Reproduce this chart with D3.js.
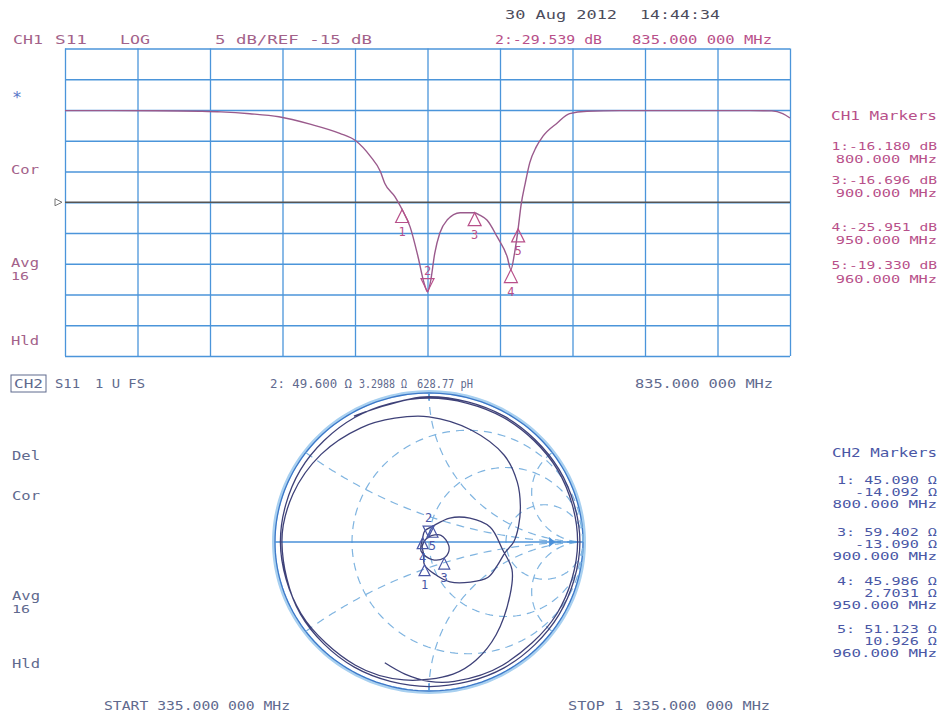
<!DOCTYPE html>
<html>
<head>
<meta charset="utf-8">
<script src="https://cdn.jsdelivr.net/npm/d3@7/dist/d3.min.js"></script>
<style>
  body { margin: 0; background: #fff; }
  svg { display: block; }
  text { font-family: "DejaVu Sans Mono", "Liberation Mono", monospace; font-size: 13px; }
</style>
</head>
<body>
<svg id="chart" width="944" height="720"></svg>
<script>
// Sweep settings
const startMHz = 335;
const stopMHz = 1335;
const dbPerDiv = 5;
const refDb = -15;

// CH1: S11 log magnitude (MHz, dB)
const freqMHz = [335, 400, 460, 520, 550, 590, 630, 673, 714, 736,
    756, 770, 776, 790, 800, 811, 822, 830, 835, 839,
    845, 852, 862, 880, 900, 907, 917, 931, 945, 950,
    955, 960, 964, 970, 976, 985, 994, 1014, 1031, 1055,
    1100, 1160, 1220, 1280, 1310, 1325, 1335];
const s11dB = [-0.1, -0.1, -0.12, -0.2, -0.3, -0.6, -1.1, -2.3, -3.8, -5.0,
    -7.5, -10.0, -11.9, -14.1, -16.18, -19.0, -23.9, -28.0, -29.539, -28.0,
    -23.3, -20.0, -17.9, -16.7, -16.696, -17.1, -17.9, -20.6, -23.9, -25.951,
    -23.3, -19.33, -15.5, -11.8, -8.6, -6.0, -4.3, -2.1, -0.6, -0.2,
    -0.1, -0.1, -0.1, -0.1, -0.15, -0.6, -1.3];

// CH2: S11 on the Smith chart, reflection coefficient as magnitude / angle (deg)
const smithAngle = [120, 90, 60, 30, 0, -30, -60, -90, -120, -150,
    180, 160, 140, 120, 105, 90, 70, 50, 35, 22,
    10, 0, -8, -20, -32, -45, -63, -80, -101, -114,
    -150, 95, 30, -10, -30, -47.5, -80, -130, 144.4, 110,
    78, 50, 31, 14, -6, -19, -34, -55, -69, -80,
    -100, -120, -150, 180, 150, 120, 90, 60, 30, 0,
    -30, -60, -80, -90, -100, -109.5];
const smithMag = [0.975, 0.975, 0.975, 0.975, 0.98, 0.975, 0.975, 0.97, 0.97, 0.965,
    0.955, 0.94, 0.915, 0.885, 0.86, 0.84, 0.8, 0.76, 0.7, 0.64,
    0.59, 0.55, 0.5, 0.47, 0.45, 0.38, 0.30, 0.22, 0.155, 0.087,
    0.05, 0.033, 0.09, 0.13, 0.145, 0.146, 0.12, 0.08, 0.05, 0.08,
    0.108, 0.21, 0.31, 0.41, 0.48, 0.57, 0.635, 0.76, 0.85, 0.9,
    0.94, 0.955, 0.96, 0.965, 0.965, 0.965, 0.965, 0.965, 0.965, 0.965,
    0.96, 0.955, 0.95, 0.935, 0.9, 0.86];

// Markers (marker 2 is the active one)
const markerId = [1, 2, 3, 4, 5];
const markerFreq = [800, 835, 900, 950, 960];
const markerDb = [-16.180, -29.539, -16.696, -25.951, -19.330];
const markerR = [45.090, 49.600, 59.402, 45.986, 51.123];
const markerX = [-14.092, 3.2988, -13.090, 2.7031, 10.926];
const activeMarker = 2;

// Graticule
const freqDivs = [335, 435, 535, 635, 735, 835, 935, 1035, 1135, 1235, 1335];
const dbDivs = [10, 5, 0, -5, -10, -15, -20, -25, -30, -35, -40];
const smithGridR = [1 / 3, 1, 3];
const smithGridX = [1 / 3, 1, 3, -1 / 3, -1, -3];

// ---------------------------------------------------------------
const svg = d3.select("#chart");
const gridBlue = "#4b95da";
const ch1Col = "#a3628a";
const ch1Mk = "#b8508a";
const ch2Col = "#5f6a8e";
const ch2Mk = "#4a57a6";

function fmtHz(f) {
    const s = f.toFixed(6).split(".");
    const n = +s[0];
    const intStr = n >= 1000 ? `${Math.floor(n / 1000)} ${String(n % 1000).padStart(3, "0")}` : `${n}`;
    return `${intStr}.${s[1].slice(0, 3)} ${s[1].slice(3)} MHz`;
}

function label(s, x, yb, w, color, size) {
    const t = svg.append("text").attr("x", x).attr("y", yb).attr("fill", color).text(s);
    if (w) t.attr("textLength", w).attr("lengthAdjust", "spacingAndGlyphs");
    if (size) t.style("font-size", size + "px");
    return t;
}

// triangle marker, tip on the point
function tri(g, px, py, up, size, color) {
    const h = size, w = size * 0.5;
    const d = up ? `M${px},${py}L${px - w},${py + h}L${px + w},${py + h}Z`
                 : `M${px},${py}L${px - w},${py - h}L${px + w},${py - h}Z`;
    g.append("path").attr("d", d).attr("fill", "none").attr("stroke", color).attr("stroke-width", 1.2);
}

// ---------------- CH1 log magnitude ----------------
const topDb = refDb + 5 * dbPerDiv;
const botDb = refDb - 5 * dbPerDiv;
const x = d3.scaleLinear().domain([startMHz, stopMHz]).range([65, 790]);
const y = d3.scaleLinear().domain([topDb, botDb]).range([48.5, 356]);

const grid = svg.append("g");
grid.append("g")
    .attr("transform", `translate(0,${y(botDb)})`)
    .call(d3.axisBottom(x).tickValues(freqDivs).tickSize(y(topDb) - y(botDb)).tickFormat(""));
grid.append("g")
    .attr("transform", `translate(${x(startMHz)},0)`)
    .call(d3.axisLeft(y).tickValues(dbDivs).tickSize(x(startMHz) - x(stopMHz)).tickFormat(""));
grid.selectAll(".domain").remove();
grid.selectAll("line").attr("stroke", gridBlue).attr("stroke-width", 1.3);

// reference line and arrow
svg.append("line")
    .attr("x1", x(startMHz)).attr("x2", x(stopMHz))
    .attr("y1", y(refDb)).attr("y2", y(refDb))
    .attr("stroke", "#555").attr("stroke-width", 1.6);
svg.append("path")
    .attr("d", `M${x(startMHz) - 10},${y(refDb) - 3.5}L${x(startMHz) - 3},${y(refDb)}L${x(startMHz) - 10},${y(refDb) + 3.5}Z`)
    .attr("fill", "none").attr("stroke", "#777").attr("stroke-width", 1);

const magData = freqMHz.map((f, i) => ({ f, db: s11dB[i] }));
svg.append("path")
    .datum(magData)
    .attr("fill", "none")
    .attr("stroke", "#9a5a8c")
    .attr("stroke-width", 1.4)
    .attr("d", d3.line().x(d => x(d.f)).y(d => y(d.db)).curve(d3.curveMonotoneX));

const mk1 = svg.append("g");
markerId.forEach((id, i) => {
    const px = x(markerFreq[i]), py = y(markerDb[i]);
    const up = id !== activeMarker;
    tri(mk1, px, py, up, 13, ch1Mk);
    mk1.append("text")
        .attr("x", px).attr("y", up ? py + 26 : py - 17)
        .attr("text-anchor", "middle").attr("fill", ch1Mk)
        .style("font-size", "12px").text(id);
});

// ---------------- CH1 texts ----------------
const m2 = markerId.indexOf(activeMarker);
label("30 Aug 2012", 505, 19, 112, "#4c4c5c");
label("14:44:34", 640, 19, 80, "#4c4c5c");
label("CH1", 13, 44, 30, ch1Col);
label("S11", 55, 44, 32, ch1Col);
label("LOG", 120, 44, 30, ch1Col);
label(`${dbPerDiv} dB/REF ${refDb} dB`, 215, 44, 157, ch1Col);
label(`${activeMarker}:${markerDb[m2].toFixed(3)} dB`, 495, 44, 107, ch1Mk);
label(fmtHz(markerFreq[m2]), 632, 44, 140, ch1Mk);

label("*", 12, 103, 10, "#5a78c8", 15);
label("Cor", 11, 174, 28, ch1Col);
label("Avg", 11, 267, 28, ch1Col, 12);
label("16", 11, 280, 18, ch1Col, 11);
label("Hld", 11, 345, 28, ch1Col);

const rightEdge = 937;
const ch1RowY = [[150, 163], [184, 197], [231, 244], [269, 283]];
label("CH1 Markers", rightEdge - 106, 120, 106, ch1Mk);
markerId.filter(id => id !== activeMarker).forEach((id, k) => {
    const i = markerId.indexOf(id);
    const a = `${id}:${markerDb[i].toFixed(3)} dB`;
    const b = `${markerFreq[i].toFixed(3)} MHz`;
    label(a, rightEdge - a.length * 8.8, ch1RowY[k][0], a.length * 8.8, ch1Mk, 10.5);
    label(b, rightEdge - b.length * 9.2, ch1RowY[k][1], b.length * 9.2, ch1Mk, 10.5);
});

// ---------------- CH2 Smith chart ----------------
const sx = d3.scaleLinear().domain([-1, 1]).range([275, 583]);
const sy = d3.scaleLinear().domain([-1, 1]).range([691, 393]);
const smithLine = d3.line().x(d => sx(d[0])).y(d => sy(d[1]));
const unit = d3.range(0, 361, 2).map(a => [Math.cos(a * Math.PI / 180), Math.sin(a * Math.PI / 180)]);

const sg = svg.append("g");
sg.append("path").attr("d", smithLine(unit.map(([u, v]) => [u * 1.008, v * 1.008])))
    .attr("fill", "none").attr("stroke", "#a8d0f0").attr("stroke-width", 3.5);
sg.append("path").attr("d", smithLine(unit))
    .attr("fill", "none").attr("stroke", "#3d78c8").attr("stroke-width", 1.3);

smithGridR.forEach(r => {
    const c = r / (1 + r), rad = 1 / (1 + r);
    sg.append("path").attr("d", smithLine(unit.map(([u, v]) => [c + rad * u, rad * v])))
        .attr("fill", "none").attr("stroke", "#7fb4e0").attr("stroke-width", 1.2)
        .attr("stroke-dasharray", "8,6");
});
const rSweep = [0].concat(d3.range(0, 201).map(i => Math.pow(10, -2 + i * 0.02)));
smithGridX.forEach(xx => {
    const pts = rSweep.map(r => {
        const den = (r + 1) * (r + 1) + xx * xx;
        return [(r * r - 1 + xx * xx) / den, 2 * xx / den];
    });
    sg.append("path").attr("d", smithLine(pts))
        .attr("fill", "none").attr("stroke", "#7fb4e0").attr("stroke-width", 1.2)
        .attr("stroke-dasharray", "8,6");
});
sg.append("line")
    .attr("x1", sx(-1)).attr("x2", sx(1)).attr("y1", sy(0)).attr("y2", sy(0))
    .attr("stroke", "#4a90d9").attr("stroke-width", 1.5);
[[1, 0.95], [-1, -0.95]].forEach(([a, b]) => {
    sg.append("line").attr("x1", sx(0)).attr("x2", sx(0)).attr("y1", sy(a)).attr("y2", sy(b))
        .attr("stroke", "#4a90d9").attr("stroke-width", 1.3);
});
sg.append("path")
    .attr("d", `M${sx(0.78)},${sy(0) - 5}L${sx(0.82)},${sy(0)}L${sx(0.78)},${sy(0) + 5}Z`)
    .attr("fill", "#4a90d9");

const gamma = smithAngle.map((a, i) => [smithMag[i] * Math.cos(a * Math.PI / 180), smithMag[i] * Math.sin(a * Math.PI / 180)]);
sg.append("path")
    .datum(gamma)
    .attr("fill", "none")
    .attr("stroke", "#3e4178")
    .attr("stroke-width", 1.3)
    .attr("d", d3.line().x(d => sx(d[0])).y(d => sy(d[1])).curve(d3.curveCatmullRom));

const mk2 = svg.append("g");
markerId.forEach((id, i) => {
    const zr = markerR[i] / 50, zx = markerX[i] / 50;
    const den = (zr + 1) * (zr + 1) + zx * zx;
    const gr = (zr * zr - 1 + zx * zx) / den, gi = 2 * zx / den;
    const px = sx(gr), py = sy(gi);
    const up = id !== activeMarker;
    tri(mk2, px, py, up, 11, ch2Mk);
    mk2.append("text")
        .attr("x", px).attr("y", up ? py + 24 : py - 15)
        .attr("text-anchor", "middle").attr("fill", ch2Mk)
        .style("font-size", "12px").text(id);
});

// ---------------- CH2 texts ----------------
svg.append("rect").attr("x", 11).attr("y", 375).attr("width", 35).attr("height", 17)
    .attr("fill", "none").attr("stroke", ch2Col).attr("stroke-width", 1);
label("CH2", 14, 388, 29, ch2Col);
label("S11", 55, 388, 25, ch2Col);
label("1 U FS", 95, 388, 50, ch2Col);
const lpH = markerX[m2] / (2 * Math.PI * markerFreq[m2] * 1e6) * 1e12;
label(`${activeMarker}: ${markerR[m2].toFixed(3)} Ω`, 270, 388, 82, ch2Col, 12);
label(`${markerX[m2].toPrecision(5)} Ω`, 359, 388, 48, ch2Col, 12);
label(`${lpH.toFixed(2)} pH`, 417, 388, 56, ch2Col, 12);
label(fmtHz(markerFreq[m2]), 635, 388, 138, ch2Col);

label("Del", 12, 460, 28, ch2Col);
label("Cor", 12, 500, 28, ch2Col);
label("Avg", 12, 600, 28, ch2Col, 12);
label("16", 12, 613, 18, ch2Col, 11);
label("Hld", 12, 668, 28, ch2Col);

const ch2RowY = [[484, 496, 508], [536, 548, 560], [585, 597, 609], [633, 645, 657]];
label("CH2 Markers", rightEdge - 105, 457, 105, ch2Mk);
markerId.filter(id => id !== activeMarker).forEach((id, k) => {
    const i = markerId.indexOf(id);
    const a = `${id}: ${markerR[i].toFixed(3)} Ω`;
    const b = `${markerX[i].toPrecision(5)} Ω`;
    const c = `${markerFreq[i].toFixed(3)} MHz`;
    label(a, rightEdge - a.length * 9.1, ch2RowY[k][0], a.length * 9.1, ch2Mk, 10);
    label(b, rightEdge - b.length * 9.1, ch2RowY[k][1], b.length * 9.1, ch2Mk, 10);
    label(c, rightEdge - c.length * 9.5, ch2RowY[k][2], c.length * 9.5, ch2Mk, 10);
});

label(`START ${fmtHz(startMHz)}`, 104, 710, 186, ch2Col);
label(`STOP ${fmtHz(stopMHz)}`, 568, 710, 202, ch2Col);
</script>
</body>
</html>
